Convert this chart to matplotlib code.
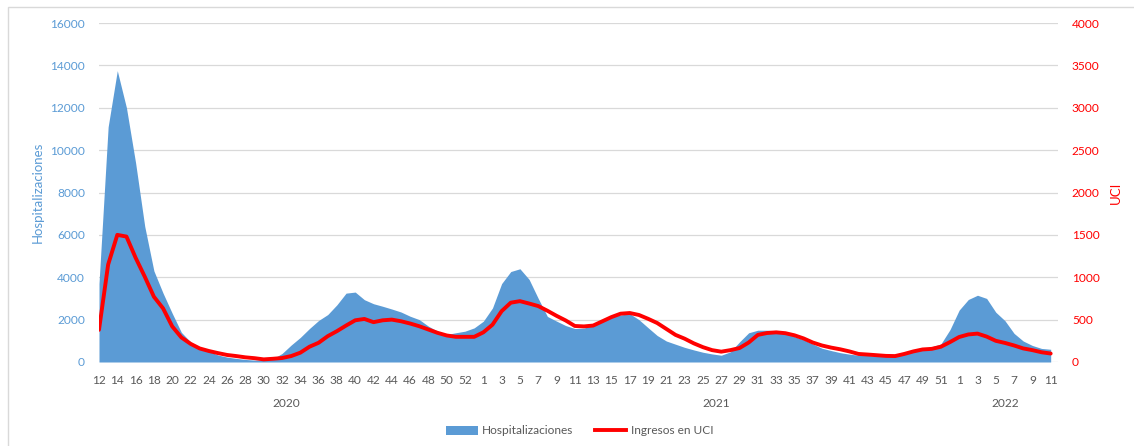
import numpy as np
import matplotlib.pyplot as plt
from matplotlib.patches import Patch, Rectangle
from matplotlib.lines import Line2D
import matplotlib.transforms as mtransforms

plt.rcParams['font.family'] = ['Lato', 'DejaVu Sans']

# semanas epidemiologicas
weeks_2020 = list(range(12, 54))
weeks_2021 = list(range(1, 53))
weeks_2022 = list(range(1, 12))
years = ['2020', '2021', '2022']

# hospitalizaciones (eje izquierdo), un valor por semana
hosp = [3700, 11100, 13750, 12000, 9400, 6400, 4300, 3250, 2300, 1400,
        950, 680, 500, 330, 230, 170, 120, 90, 100, 150,
        400, 800, 1160, 1580, 1960, 2240, 2700, 3250, 3300, 2940,
        2750, 2630, 2500, 2360, 2160, 2000, 1690, 1455, 1300, 1380,
        1455, 1610, 1925, 2550, 3700, 4270, 4400, 3900, 3000, 2150,
        1930, 1720, 1580, 1600, 1740, 2000, 2130, 2220, 2280, 2000,
        1620, 1250, 990, 840, 690, 570, 460, 380, 320, 480,
        950, 1380, 1500, 1500, 1480, 1390, 1200, 1050, 850, 650,
        540, 440, 370, 320, 310, 282, 280, 305, 380, 480,
        620, 720, 850, 1530, 2450, 2950, 3150, 3000, 2350, 1950,
        1350, 990, 780, 640, 600]

# ingresos en UCI (eje derecho)
uci = [380, 1150, 1500, 1480, 1230, 1007, 770, 633, 420, 290,
       215, 160, 130, 105, 83, 70, 55, 45, 31, 38,
       47, 70, 110, 180, 227, 305, 364, 430, 492, 508,
       470, 492, 500, 481, 454, 422, 383, 344, 313, 297,
       297, 297, 350, 440, 600, 700, 718, 690, 660, 605,
       545, 490, 425, 420, 430, 480, 530, 570, 578, 555,
       510, 460, 390, 320, 275, 220, 175, 140, 122, 140,
       165, 230, 320, 342, 350, 340, 315, 278, 230, 195,
       170, 150, 125, 95, 88, 80, 72, 70, 95, 125,
       148, 155, 180, 235, 295, 325, 335, 300, 250, 225,
       195, 160, 140, 115, 100]

blue = '#5B9BD5'
red = '#FF0000'
grey = '#595959'

all_weeks = weeks_2020 + weeks_2021 + weeks_2022
x = np.arange(len(all_weeks))

fig = plt.figure(figsize=(11.34, 4.46), dpi=100)
ax = fig.add_axes([99 / 1134, (446 - 362) / 446, 959 / 1134, 339 / 446])
ax2 = ax.twinx()

ax.fill_between(x, hosp, 0, color=blue, linewidth=0, zorder=2)
ax2.plot(x, uci, color=red, linewidth=2.8, solid_capstyle='round')

ax.set_xlim(0, len(all_weeks) - 0.2)
ax.set_ylim(0, 16000)
ax2.set_ylim(0, 4000)
ax.set_yticks(np.arange(0, 16001, 2000))
ax2.set_yticks(np.arange(0, 4001, 500))

ax.set_axisbelow(True)
ax.yaxis.grid(True, color='#D9D9D9', linewidth=0.9)

ticks = x[::2]
ax.set_xticks(ticks)
ax.set_xticklabels([str(all_weeks[t]) for t in ticks])

for a in (ax, ax2):
    for s in a.spines.values():
        s.set_visible(False)
ax.tick_params(axis='x', length=0, pad=9, labelsize=8.6, colors=grey)
ax.tick_params(axis='y', length=0, pad=10, labelsize=8.6, colors=blue)
ax2.tick_params(axis='y', length=0, pad=10, labelsize=8.6, colors=red)

ax.set_ylabel('Hospitalizaciones', color=blue, fontsize=9.5, labelpad=5)
ax2.set_ylabel('UCI', color=red, fontsize=9.5, labelpad=7)

# etiquetas de año centradas bajo cada grupo de semanas
trans = mtransforms.blended_transform_factory(ax.transData, ax.transAxes)
start = -0.5
groups = [weeks_2020, weeks_2021, weeks_2022]
for yr, grp in zip(years, groups):
    end = min(start + len(grp), len(all_weeks) - 0.2)
    ax.text((start + end) / 2, -0.121, yr, transform=trans, ha='center',
            va='center', fontsize=8.6, color=grey)
    start += len(grp)

handles = [Patch(facecolor=blue, edgecolor='none'),
           Line2D([0], [0], color=red, linewidth=2.8)]
fig.legend(handles, ['Hospitalizaciones', 'Ingresos en UCI'], loc='center',
           bbox_to_anchor=(580 / 1134, 15 / 446), ncol=2, frameon=False,
           fontsize=8.6, handlelength=2.6, handleheight=0.8,
           columnspacing=1.8, handletextpad=0.4, labelcolor=grey)

# borde del area del grafico
fig.patches.append(Rectangle((8 / 1134, -0.05), 1.1, (446 - 7) / 446 + 0.05,
                             transform=fig.transFigure, fill=False,
                             edgecolor='#D9D9D9', linewidth=1))

fig.savefig('out.png', dpi=100)
